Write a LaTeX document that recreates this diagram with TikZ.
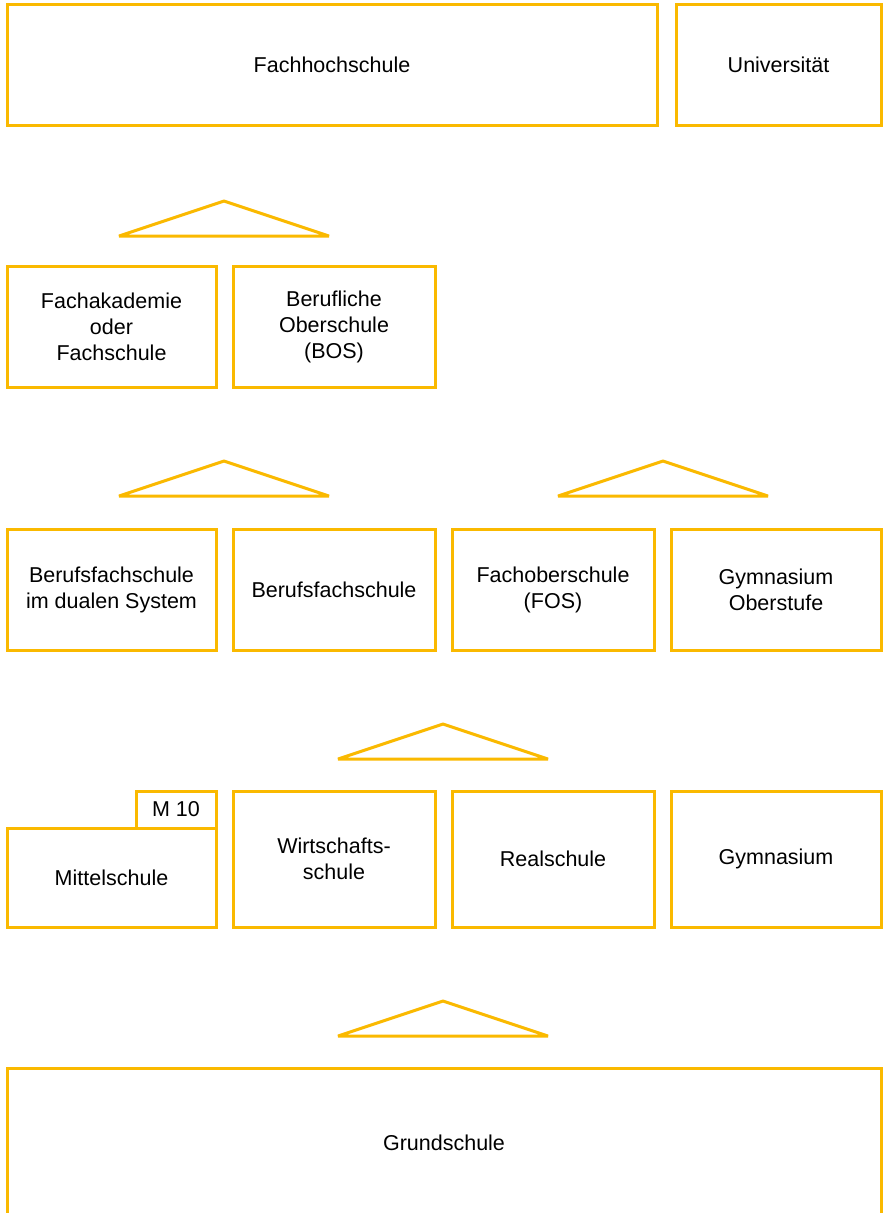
\documentclass[tikz,border=0pt]{standalone}
\usepackage{fontspec}
\setmainfont{Liberation Sans}
\definecolor{gelb}{RGB}{250,185,0}
\tikzset{
    schule/.style = {draw = gelb, line width = 3pt, rectangle, align = center, inner sep = 0pt,
                     font = \fontsize{21.5}{26}\selectfont},
    keil/.style   = {draw = gelb, line width = 3pt, line join = bevel}
}
\begin{document}
\begin{tikzpicture}[x=1pt, y=-1pt]
    \useasboundingbox (0,0) rectangle (885,1213);
    % Hochschulen
    \node (fh)  at (332,64.5)   [schule, minimum width = 650, minimum height = 121] {Fachhochschule};
    \node (uni) at (778.5,64.5) [schule, minimum width = 205, minimum height = 121] {Universität};
    % Zweiter Bildungsweg
    \node (fak) at (111.5,326.5) [schule, minimum width = 209, minimum height = 121] {Fachakademie\\oder\\Fachschule};
    \node (bos) at (334,326.5)   [schule, minimum width = 202, minimum height = 121] {Berufliche\\Oberschule\\(BOS)};
    % Sekundarstufe II
    \node (bfsd) at (111.5,589.5) [schule, minimum width = 209, minimum height = 121] {Berufsfachschule\\im dualen System};
    \node (bfs)  at (334,589.5)   [schule, minimum width = 202, minimum height = 121] {Berufsfachschule};
    \node (fos)  at (553,589.5)   [schule, minimum width = 202, minimum height = 121] {Fachoberschule\\(FOS)};
    \node (gymo) at (776,589.5)   [schule, minimum width = 210, minimum height = 121] {Gymnasium\\Oberstufe};
    % Sekundarstufe I
    \node (ms)   at (111.5,877.5) [schule, minimum width = 209, minimum height = 99]  {Mittelschule};
    \node (m10)  at (176,809.5)   [schule, minimum width = 80,  minimum height = 37]  {M 10};
    \node (ws)   at (334,859)     [schule, minimum width = 202, minimum height = 136] {Wirtschafts-\\schule};
    \node (rs)   at (553,859)     [schule, minimum width = 202, minimum height = 136] {Realschule};
    \node (gym)  at (776,859)     [schule, minimum width = 210, minimum height = 136] {Gymnasium};
    % Primarstufe
    \node (gs)   at (444,1143)    [schule, minimum width = 874, minimum height = 150] {Grundschule};
    % Dreiecke
    \foreach \x/\y in {224/201, 224/461, 663/461, 443/724, 443/1001}
        \draw [keil] (\x-105,\y+35) -- (\x,\y) -- (\x+105,\y+35) -- cycle;
\end{tikzpicture}
\end{document}
